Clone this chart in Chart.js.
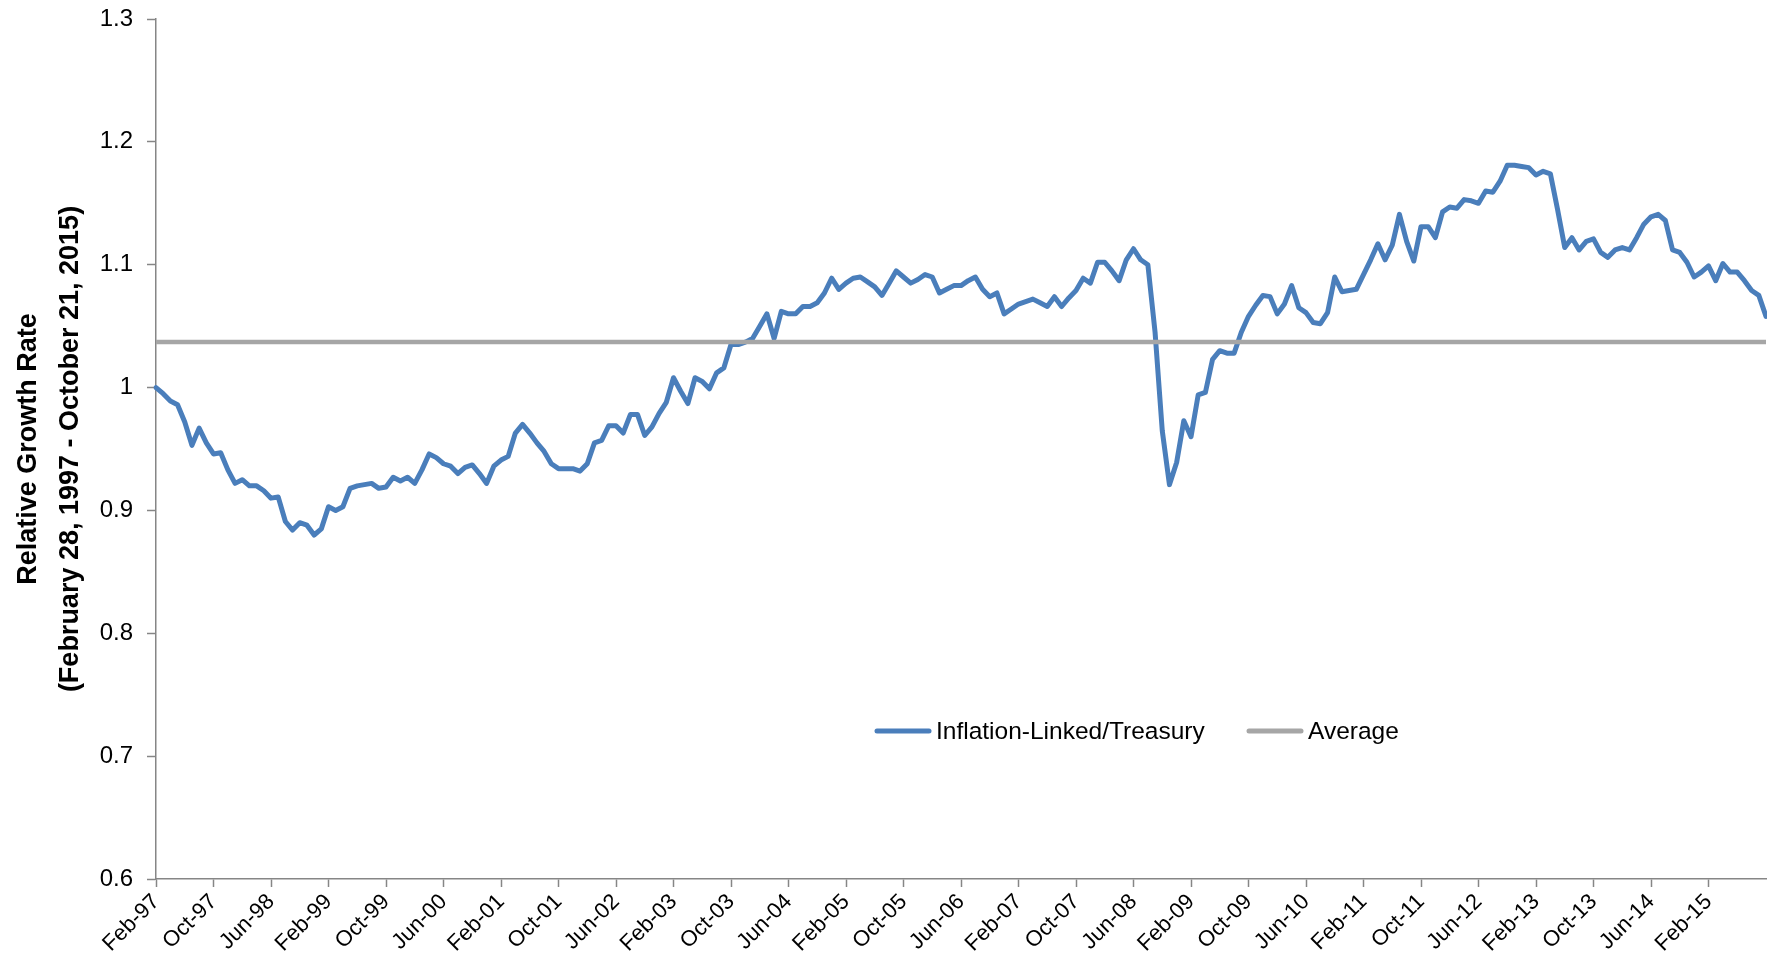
<!DOCTYPE html>
<html>
<head>
<meta charset="utf-8">
<script src="https://cdn.jsdelivr.net/npm/chart.js@4.4.0/dist/chart.umd.min.js"></script>
<style>
  html, body { margin: 0; padding: 0; background: #fff; }
</style>
</head>
<body>
<canvas id="chart" width="1767" height="959"></canvas>
<script>
// monthly series, Feb-97 .. Oct-15
const MONTHS = ["Jan", "Feb", "Mar", "Apr", "May", "Jun", "Jul", "Aug", "Sep", "Oct", "Nov", "Dec"];
const START_YEAR = 1997, START_MONTH = 1, N_POINTS = 225;
const TICK_EVERY = 8;

const ratio = [
  1.000, 0.995, 0.989, 0.986, 0.972, 0.953, 0.967, 0.955, 0.946, 0.947,
  0.933, 0.922, 0.925, 0.920, 0.920, 0.916, 0.910, 0.911, 0.891, 0.884,
  0.890, 0.888, 0.880, 0.885, 0.903, 0.900, 0.903, 0.918, 0.920, 0.921,
  0.922, 0.918, 0.919, 0.927, 0.924, 0.927, 0.922, 0.933, 0.946, 0.943,
  0.938, 0.936, 0.930, 0.935, 0.937, 0.930, 0.922, 0.936, 0.941, 0.944,
  0.963, 0.970, 0.963, 0.955, 0.948, 0.938, 0.934, 0.934, 0.934, 0.932,
  0.938, 0.955, 0.957, 0.969, 0.969, 0.963, 0.978, 0.978, 0.961, 0.968,
  0.979, 0.988, 1.008, 0.997, 0.987, 1.008, 1.005, 0.999, 1.012, 1.016,
  1.035, 1.035, 1.037, 1.040, 1.050, 1.060, 1.040, 1.062, 1.060, 1.060,
  1.066, 1.066, 1.069, 1.077, 1.089, 1.080, 1.085, 1.089, 1.090, 1.086,
  1.082, 1.075, 1.085, 1.095, 1.090, 1.085, 1.088, 1.092, 1.090, 1.077,
  1.080, 1.083, 1.083, 1.087, 1.090, 1.080, 1.074, 1.077, 1.060, 1.064,
  1.068, 1.070, 1.072, 1.069, 1.066, 1.074, 1.066, 1.073, 1.079, 1.089,
  1.085, 1.102, 1.102, 1.095, 1.087, 1.104, 1.113, 1.104, 1.100, 1.045,
  0.965, 0.921, 0.939, 0.973, 0.960, 0.994, 0.996, 1.023, 1.030, 1.028,
  1.028, 1.045, 1.058, 1.067, 1.075, 1.074, 1.060, 1.068, 1.083, 1.065,
  1.061, 1.053, 1.052, 1.061, 1.090, 1.078, 1.079, 1.080, 1.092, 1.104,
  1.117, 1.104, 1.116, 1.141, 1.119, 1.103, 1.131, 1.131, 1.122, 1.143,
  1.147, 1.146, 1.153, 1.152, 1.150, 1.160, 1.159, 1.168, 1.181, 1.181,
  1.180, 1.179, 1.173, 1.176, 1.174, 1.145, 1.114, 1.122, 1.112, 1.119,
  1.121, 1.110, 1.106, 1.112, 1.114, 1.112, 1.122, 1.133, 1.139, 1.141,
  1.136, 1.112, 1.110, 1.102, 1.090, 1.094, 1.099, 1.087, 1.101, 1.094,
  1.094, 1.087, 1.079, 1.075, 1.058
];
const AVERAGE = 1.037;

const Y_MIN = 0.6, Y_MAX = 1.3, Y_STEP = 0.1;
const Y_TITLE = ["Relative Growth Rate", "(February 28, 1997 - October 21, 2015)"];
const SERIES_NAMES = ["Inflation-Linked/Treasury", "Average"];

const BLUE = "#4a7ebb";
const GREY = "#a6a6a6";
const AXIS = "#868686";
const FONT = "'Liberation Sans', Arial, sans-serif";

// "Feb-97" style labels
const labels = [];
for (let i = 0; i < N_POINTS; i++) {
  const m = (START_MONTH + i) % 12;
  const y = START_YEAR + Math.floor((START_MONTH + i) / 12);
  labels.push(MONTHS[m] + "-" + String(y).slice(2));
}
const average = labels.map(() => AVERAGE);

// legend drawn inside the plot, under the lines
const inlineLegend = {
  id: "inlineLegend",
  afterDraw(chart) {
    const ctx = chart.ctx;
    const y = 731;
    const items = [
      { x: 877, color: BLUE, width: 5, text: SERIES_NAMES[0] },
      { x: 1249, color: GREY, width: 5, text: SERIES_NAMES[1] }
    ];
    ctx.save();
    ctx.font = "24.5px " + FONT;
    ctx.textBaseline = "middle";
    ctx.fillStyle = "#000";
    items.forEach(it => {
      ctx.strokeStyle = it.color;
      ctx.lineWidth = it.width;
      ctx.lineCap = "round";
      ctx.beginPath();
      ctx.moveTo(it.x, y);
      ctx.lineTo(it.x + 52, y);
      ctx.stroke();
      ctx.fillText(it.text, it.x + 59, y + 1);
    });
    ctx.restore();
  }
};

new Chart(document.getElementById("chart"), {
  type: "line",
  data: {
    labels,
    datasets: [
      { label: SERIES_NAMES[0], data: ratio, borderColor: BLUE, borderWidth: 5, pointRadius: 0,
        tension: 0, borderJoinStyle: "round", borderCapStyle: "round", order: 1 },
      { label: SERIES_NAMES[1], data: average, borderColor: GREY, borderWidth: 4.5, pointRadius: 0,
        tension: 0, borderCapStyle: "butt", order: 0 }
    ]
  },
  options: {
    responsive: false,
    animation: false,
    events: [],
    layout: { padding: { top: 19, right: 1, left: 0, bottom: 0 } },
    plugins: { legend: { display: false }, tooltip: { enabled: false } },
    scales: {
      x: {
        offset: false,
        grid: { drawOnChartArea: false, drawTicks: true, tickLength: 8, tickColor: AXIS, tickWidth: 1.5 },
        border: { color: AXIS, width: 1.5 },
        ticks: {
          autoSkip: false, minRotation: 45, maxRotation: 45, padding: 2,
          color: "#000", font: { family: FONT, size: 22 },
          callback: (v, i) => (i % TICK_EVERY === 0 && i < N_POINTS - 1) ? labels[i] : null
        },
        afterFit: s => { s.height = 80; s.paddingLeft = 0; s.paddingRight = 0; }
      },
      y: {
        min: Y_MIN, max: Y_MAX,
        grid: { drawOnChartArea: false, drawTicks: true, tickLength: 9, tickColor: AXIS, tickWidth: 1.5 },
        border: { color: AXIS, width: 1.5 },
        ticks: {
          stepSize: Y_STEP, padding: 14, color: "#000", font: { family: FONT, size: 24 },
          callback: v => String(+v.toFixed(1))
        },
        title: {
          display: true, text: Y_TITLE, color: "#000",
          font: { family: FONT, size: 27, weight: "bold", lineHeight: 1.55 },
          padding: { top: 8, bottom: 0 }
        },
        afterFit: s => { s.width = 156; s.paddingTop = 0; s.paddingBottom = 0; }
      }
    }
  },
  plugins: [inlineLegend]
});
</script>
</body>
</html>
